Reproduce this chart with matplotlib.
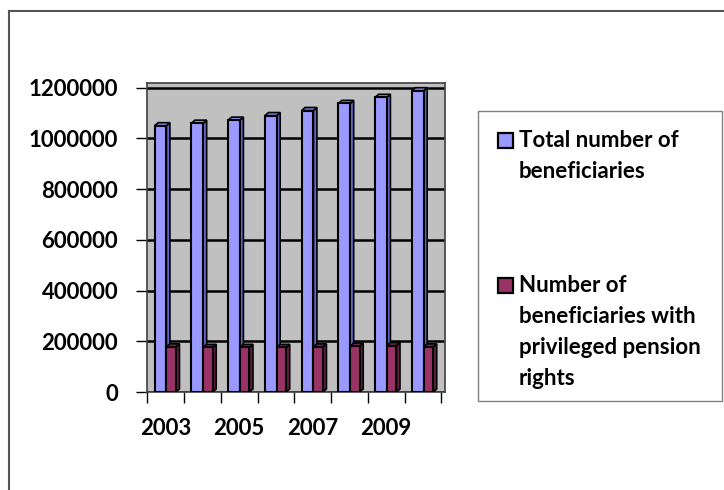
import numpy as np
import matplotlib.pyplot as plt
from matplotlib import font_manager as fm
from matplotlib.patches import Polygon, Rectangle
from matplotlib.lines import Line2D

years = [2003, 2004, 2005, 2006, 2007, 2008, 2009, 2010]
total = [1050000, 1060000, 1072000, 1090000, 1110000, 1138000, 1162000, 1188000]
privileged = [178000, 176000, 176000, 176000, 178000, 181000, 183000, 178000]
labels = ['Total number of\nbeneficiaries',
          'Number of\nbeneficiaries with\nprivileged pension\nrights']
colors = ['#9999FF', '#993366']

plt.rcParams['font.family'] = ['Lato', 'DejaVu Sans']
bold_path = fm.findfont(fm.FontProperties(family='Lato', weight='bold'))
fp = fm.FontProperties(fname=bold_path, size=16)

W, H = 724, 490
fig = plt.figure(figsize=(W / 100, H / 100), dpi=100)
ax = fig.add_axes([147.3 / W, (H - 392) / H, (445 - 147.3) / W, (392 - 83) / H])
ax.set_facecolor('#C0C0C0')

x = np.arange(len(years))
dx, dy = 0.095, 12000


def bar3d(xc, width, values, face, side, top):
    ax.bar(xc, values, width, color=face, edgecolor='black', linewidth=1.5, zorder=3)
    for xi, v in zip(xc, values):
        x0, x1 = xi - width / 2, xi + width / 2
        ax.add_patch(Polygon([(x1, 0), (x1 + dx, dy), (x1 + dx, v + dy), (x1, v)],
                             closed=True, fc=side, ec='black', lw=1.2, zorder=2.9))
        ax.add_patch(Polygon([(x0, v), (x0 + dx, v + dy), (x1 + dx, v + dy), (x1, v)],
                             closed=True, fc=top, ec='black', lw=1.2, zorder=2.9))


bar3d(x - 0.14, 0.32, total, colors[0], '#6666CC', '#8888EE')
bar3d(x + 0.15, 0.26, privileged, colors[1], '#661F44', '#7A2850')

ax.set_xlim(-0.5, 7.6)
ax.set_ylim(0, 1218500)
ax.tick_params(axis='x', which='minor', length=0, pad=19)
ax.tick_params(axis='x', which='major', length=8, width=1, color='black')
ax.tick_params(axis='y', length=8, width=1, pad=13)

yt = np.arange(0, 1200001, 200000)
ax.set_yticks(yt, [str(v) for v in yt], fontproperties=fp)
ax.yaxis.grid(True, color='black', linewidth=1.8, zorder=1)
ax.set_axisbelow(True)

ax.set_xticks(np.arange(-0.5, 8, 1), [])
ax.set_xticks(x[::2], [str(y) for y in years[::2]], minor=True, fontproperties=fp)

for s in ax.spines.values():
    s.set_color('#404040')
    s.set_linewidth(1.2)

# legend box drawn by hand so that markers sit on the first line
fig.add_artist(Rectangle((478 / W, 1 - 401 / H), (722 - 478) / W, (401 - 111) / H,
                         transform=fig.transFigure, fc='white', ec='#808080', lw=1.0))
entry_baselines = [147, 292]
line_gap = 31
for lab, col, base in zip(labels, colors, entry_baselines):
    fig.add_artist(Rectangle((498 / W, 1 - (base + 1) / H), 15 / W, 15 / H,
                             transform=fig.transFigure, fc=col, ec='black', lw=1.6))
    for j, line in enumerate(lab.split('\n')):
        fig.text(519 / W, 1 - (base + j * line_gap) / H, line,
                 fontproperties=fp, va='baseline', ha='left')

# chart area border
fig.add_artist(Line2D([8.5 / W, 8.5 / W], [0, 1 - 11 / H], color='#555555', lw=1.5))
fig.add_artist(Line2D([8.5 / W, 1], [1 - 11 / H, 1 - 11 / H], color='#555555', lw=1.5))

fig.savefig('out.png', dpi=100)
